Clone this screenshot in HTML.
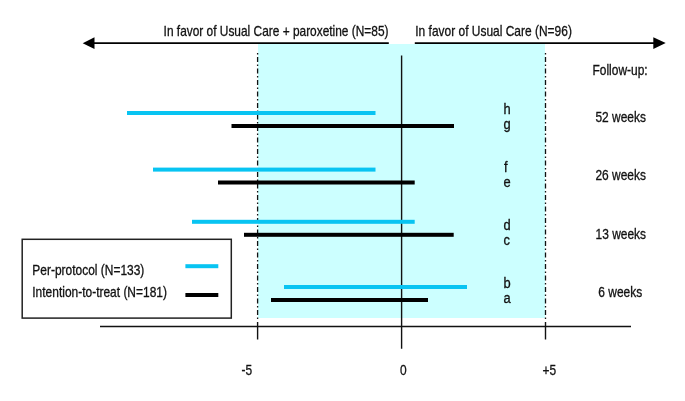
<!DOCTYPE html>
<html>
<head>
<meta charset="utf-8">
<style>
html, body { margin: 0; padding: 0; background: #fff; }
body { width: 685px; height: 401px; overflow: hidden; }
svg { display: block; }
text { font-family: "Liberation Sans", sans-serif; font-size: 14px; fill: #111; }
.txt { filter: grayscale(1); }
.txt text { stroke: #111; stroke-width: 0.3px; }
</style>
</head>
<body>
<svg width="685" height="401" viewBox="0 0 685 401">
  <rect x="0" y="0" width="685" height="401" fill="#fff"/>
  <!-- shaded region -->
  <rect x="258" y="44" width="287" height="274" fill="#CCFFFF"/>

  <!-- top arrows -->
  <line x1="93" y1="43.1" x2="388.8" y2="43.1" stroke="#000" stroke-width="1.8"/>
  <polygon points="82.7,43.2 94.5,37.2 94.5,49" fill="#000"/>
  <line x1="414.8" y1="43.1" x2="655" y2="43.1" stroke="#000" stroke-width="1.8"/>
  <polygon points="665.7,43.1 653.3,37.2 653.3,48.9" fill="#000"/>

  <!-- dashed lines at -5 and +5 -->
  <line x1="257.6" y1="53" x2="257.6" y2="320" stroke="#111" stroke-width="1.3" stroke-dasharray="1.5 2.5 5 2.5" />
  <line x1="545.5" y1="53" x2="545.5" y2="320" stroke="#111" stroke-width="1.3" stroke-dasharray="1.5 2.5 5 2.5" />

  <!-- zero line -->
  <line x1="401.6" y1="55.5" x2="401.6" y2="348.8" stroke="#111" stroke-width="1.4"/>

  <!-- axis -->
  <line x1="100" y1="326.5" x2="631" y2="326.5" stroke="#111" stroke-width="1.4"/>
  <line x1="257.6" y1="322" x2="257.6" y2="339.5" stroke="#111" stroke-width="1.4"/>
  <line x1="545.5" y1="322" x2="545.5" y2="339.5" stroke="#111" stroke-width="1.4"/>

  <!-- bars -->
  <g fill="#08C4F2">
    <rect x="127" y="111" width="248.5" height="4"/>
    <rect x="153" y="167.6" width="222.5" height="4"/>
    <rect x="192" y="219.8" width="222.7" height="4"/>
    <rect x="284" y="285" width="183" height="4"/>
    <rect x="185.4" y="264.2" width="32.9" height="4"/>
  </g>
  <g fill="#000">
    <rect x="231.5" y="124" width="222.5" height="4"/>
    <rect x="218" y="180.5" width="196.7" height="4"/>
    <rect x="244" y="232.8" width="209.7" height="4"/>
    <rect x="271" y="298" width="157" height="4"/>
    <rect x="185.4" y="293" width="32.9" height="4"/>
  </g>

  <!-- legend box -->
  <rect x="22.2" y="239.3" width="209.1" height="78.8" fill="none" stroke="#222" stroke-width="1.5"/>

  <!-- texts -->
  <g class="txt">
    <text transform="translate(163.6,35.5) scale(0.851,1)">In favor of Usual Care + paroxetine (N=85)</text>
    <text transform="translate(415.3,35.5) scale(0.855,1)">In favor of Usual Care (N=96)</text>
    <text transform="translate(592.5,74.8) scale(0.855,1)">Follow-up:</text>
    <text transform="translate(595.4,122.4) scale(0.855,1)">52 weeks</text>
    <text transform="translate(595.4,180.4) scale(0.855,1)">26 weeks</text>
    <text transform="translate(595.5,238.9) scale(0.855,1)">13 weeks</text>
    <text transform="translate(598.3,296.5) scale(0.855,1)">6 weeks</text>

    <text transform="translate(503.6,113.5) scale(0.92,1)">h</text>
    <text transform="translate(503.6,128.5) scale(0.92,1)">g</text>
    <text transform="translate(504.1,172) scale(0.92,1)">f</text>
    <text transform="translate(503.6,186.6) scale(0.92,1)">e</text>
    <text transform="translate(503.6,229.5) scale(0.92,1)">d</text>
    <text transform="translate(503.6,244.5) scale(0.92,1)">c</text>
    <text transform="translate(503.6,287.5) scale(0.92,1)">b</text>
    <text transform="translate(503.6,302.5) scale(0.92,1)">a</text>

    <text transform="translate(32.3,274.7) scale(0.855,1)">Per-protocol (N=133)</text>
    <text transform="translate(32.3,296.7) scale(0.855,1)">Intention-to-treat (N=181)</text>

    <text transform="translate(241.5,375.1) scale(0.855,1)">-5</text>
    <text transform="translate(400.1,375.1) scale(0.855,1)">0</text>
    <text transform="translate(542.6,375.1) scale(0.855,1)">+5</text>
  </g>
</svg>
</body>
</html>
